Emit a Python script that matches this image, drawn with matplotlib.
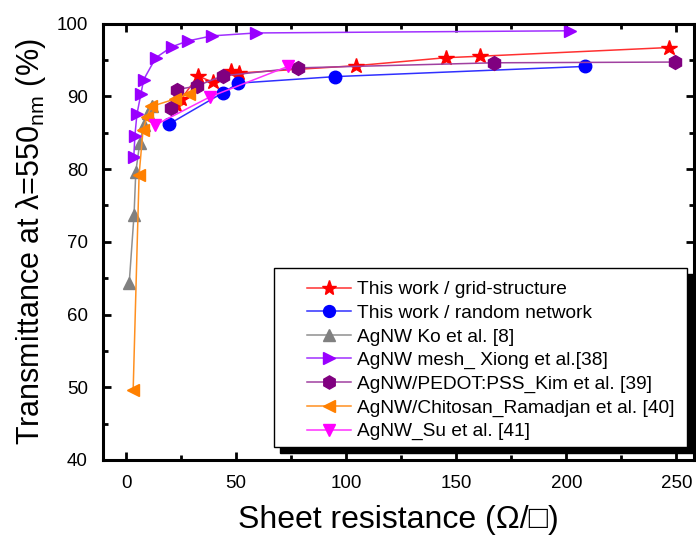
import matplotlib
matplotlib.use("Agg")
import matplotlib.pyplot as plt
from matplotlib.patches import Rectangle
from matplotlib.ticker import MultipleLocator

plt.rcParams['font.family'] = ['Liberation Sans', 'DejaVu Sans']
plt.rcParams['mathtext.fontset'] = 'custom'
plt.rcParams['mathtext.rm'] = 'Liberation Sans'

# ---- data ----
grid_x = [22.5, 25, 32.7, 39.5, 47.5, 51.5, 104.4, 145.3, 160.8, 246.8]
grid_y = [88.8, 89.6, 92.8, 91.9, 93.5, 93.2, 94.2, 95.3, 95.5, 96.7]

rand_x = [19.6, 44.1, 51.0, 95.0, 208.5]
rand_y = [86.2, 90.5, 91.8, 92.7, 94.1]

ko_x = [1.4, 3.6, 4.4, 6.2, 8.0, 9.9, 11.7]
ko_y = [64.3, 73.7, 79.6, 83.6, 86.0, 87.7, 88.6]

xiong_x = [3.5, 4.0, 4.9, 6.7, 8.0, 13.5, 20.8, 28.0, 39.0, 59.0, 201.7]
xiong_y = [81.7, 84.6, 87.5, 90.3, 92.3, 95.3, 96.8, 97.6, 98.3, 98.7, 99.0]

kim_x = [20.2, 22.9, 32.0, 43.8, 78.0, 167.3, 249.4]
kim_y = [88.4, 90.9, 91.4, 92.8, 93.9, 94.6, 94.7]

rama_x = [3.2, 5.9, 7.7, 9.5, 11.5, 22.0, 28.5]
rama_y = [49.6, 79.2, 85.4, 87.2, 88.6, 89.6, 90.3]

su_x = [13.0, 38.0, 73.5]
su_y = [86.0, 89.9, 94.1]

labels = ["This work / grid-structure",
          "This work / random network",
          "AgNW Ko et al. [8]",
          "AgNW mesh_ Xiong et al.[38]",
          "AgNW/PEDOT:PSS_Kim et al. [39]",
          "AgNW/Chitosan_Ramadjan et al. [40]",
          "AgNW_Su et al. [41]"]

xticks = [0, 50, 100, 150, 200, 250]
yticks = [40, 50, 60, 70, 80, 90, 100]

W, H = 696, 537
fig = plt.figure(figsize=(W / 100, H / 100), dpi=100)
ax = fig.add_axes([103 / W, 1 - 460 / H, (694 - 103) / W, (460 - 23.5) / H])

ms = 9
ax.plot(grid_x, grid_y, '-', color='#ff3030', lw=1.1, marker='*', ms=ms + 2.5,
        mfc='#ff0000', mec='#ff0000', label=labels[0])
ax.plot(rand_x, rand_y, '-', color='#3030ff', lw=1.1, marker='o', ms=ms,
        mfc='#0000ff', mec='#0000ff', label=labels[1])
ax.plot(ko_x, ko_y, '-', color='#909090', lw=1.1, marker='^', ms=ms,
        mfc='#808080', mec='#808080', label=labels[2])
ax.plot(xiong_x, xiong_y, '-', color='#a030ff', lw=1.1, marker='>', ms=ms,
        mfc='#9900ff', mec='#9900ff', label=labels[3])
ax.plot(kim_x, kim_y, '-', color='#a040a0', lw=1.1, marker='h', ms=ms + 1,
        mfc='#800080', mec='#800080', label=labels[4])
ax.plot(rama_x, rama_y, '-', color='#ff9020', lw=1.1, marker='<', ms=ms,
        mfc='#ff8000', mec='#ff8000', label=labels[5])
ax.plot(su_x, su_y, '-', color='#ff30ff', lw=1.1, marker='v', ms=ms,
        mfc='#ff00ff', mec='#ff00ff', label=labels[6])

ax.set_xlim(-10.5, 258)
ax.set_ylim(40, 100)
ax.set_xticks(xticks)
ax.set_yticks(yticks)
ax.xaxis.set_minor_locator(MultipleLocator(25))
ax.yaxis.set_minor_locator(MultipleLocator(5))
ax.tick_params(which='both', direction='in', top=True, right=True,
               width=2.0, labelsize=13.5)
ax.tick_params(which='major', length=6)
ax.tick_params(which='minor', length=3.5)
ax.tick_params(axis='y', pad=11)
ax.tick_params(axis='x', pad=11)
for s in ax.spines.values():
    s.set_linewidth(2.2)

ax.set_xlabel('Sheet resistance (Ω/□)', fontsize=23, labelpad=9)
ax.set_ylabel(r'Transmittance at λ=550$\mathregular{_{nm}}$ (%)', fontsize=22,
              labelpad=6)

# legend frame with black shadow
bx0, by0, bx1, by1 = 274, 268, 687, 447
sh = Rectangle(((bx0 + 6) / W, 1 - (by1 + 6) / H), (bx1 - bx0) / W, (by1 - by0) / H,
               transform=fig.transFigure, facecolor='black', edgecolor='black',
               zorder=4, clip_on=False)
ax.add_patch(sh)
fr = Rectangle((bx0 / W, 1 - by1 / H), (bx1 - bx0) / W, (by1 - by0) / H,
               transform=fig.transFigure, facecolor='white', edgecolor='black',
               lw=1.0, zorder=4.5, clip_on=False)
ax.add_patch(fr)

leg = ax.legend(loc='upper left', bbox_to_anchor=(307 / W, 1 - 281 / H),
                bbox_transform=fig.transFigure, frameon=False, fontsize=13.8,
                borderpad=0, borderaxespad=0, handlelength=2.3,
                handletextpad=0.3, labelspacing=0.32, markerscale=0.95)
leg.set_zorder(6)

fig.savefig('out.png', dpi=100)
